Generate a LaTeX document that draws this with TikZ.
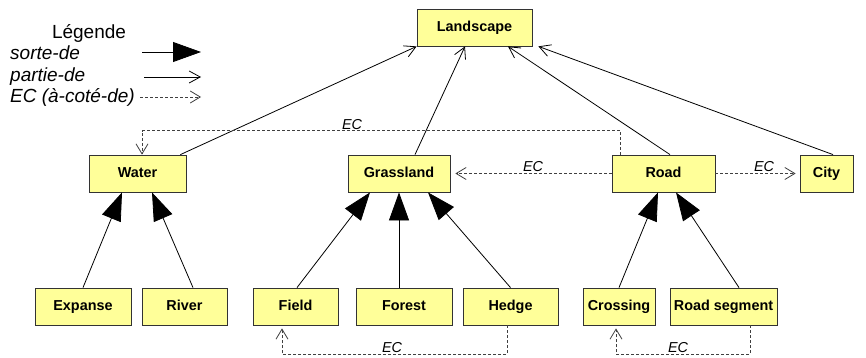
\documentclass[tikz,border=0pt]{standalone}
\usepackage{fontspec}
\setmainfont{Liberation Sans}
\usetikzlibrary{arrows.meta,calc}
\newlength{\du}
\setlength{\du}{1pt}
\definecolor{boxfill}{rgb}{1.000000, 1.000000, 0.600000}
\definecolor{boxline}{rgb}{0.200000, 0.200000, 0.200000}
\definecolor{eccolor}{rgb}{0.250000, 0.250000, 0.250000}
\tikzset{
  classbox/.style={draw=boxline, fill=boxfill, line width=0.8\du, inner sep=0pt,
    minimum height=37\du, text height=10.5pt, text depth=3pt,
    font=\fontsize{14.4}{17}\selectfont\bfseries},
  sortede/.style={line width=0.8\du, -{Triangle[length=28pt,width=20pt]}},
  partiede/.style={line width=0.8\du, -{Straight Barb[length=11pt,width=12pt]}},
  acotede/.style={line width=0.8\du, draw=eccolor, dash pattern=on 3pt off 2pt,
    -{Straight Barb[length=10pt,width=12pt]}},
  eclabel/.style={inner sep=0pt, font=\fontsize{14.4}{17}\selectfont\itshape},
  legendtext/.style={anchor=west, inner sep=0pt, font=\fontsize{19}{22}\selectfont\itshape},
}
\begin{document}
\begin{tikzpicture}
\pgftransformxscale{1.000000}
\pgftransformyscale{-1.000000}
\useasboundingbox (0\du,0\du) rectangle (866\du,358\du);
% legend
\node[inner sep=0pt, font=\fontsize{19}{22}\selectfont] (legende) at (89\du,33\du){Légende};
\node[legendtext] (lsorte) at (10\du,53\du){sorte-de};
\node[legendtext] (lpartie) at (10\du,77\du){partie-de};
\node[legendtext] (lacote) at (10\du,97\du){EC (à-coté-de)};
\coordinate (sortA) at (142\du,52\du);
\coordinate (sortB) at (201\du,52\du);
\coordinate (partA) at (144\du,77\du);
\coordinate (partB) at (201\du,77\du);
\coordinate (acoteA) at (140\du,97\du);
\coordinate (acoteB) at (201\du,97\du);
\draw[sortede] (sortA)--(sortB);
\draw[partiede] (partA)--(partB);
\draw[acotede] (acoteA)--(acoteB);
% classes
\node[classbox, minimum width=115\du] (landscape) at (474.5\du,27.5\du){Landscape};
\node[classbox, minimum width=97\du] (water) at (137.5\du,173.5\du){Water};
\node[classbox, minimum width=102\du] (grassland) at (399\du,173.5\du){Grassland};
\node[classbox, minimum width=103\du] (road) at (663.5\du,173.5\du){Road};
\node[classbox, minimum width=53\du] (city) at (826.5\du,173.5\du){City};
\node[classbox, minimum width=96\du] (expanse) at (83\du,306.5\du){Expanse};
\node[classbox, minimum width=85\du] (river) at (184.5\du,306.5\du){River};
\node[classbox, minimum width=85\du] (field) at (295.5\du,306.5\du){Field};
\node[classbox, minimum width=96\du] (forest) at (404\du,306.5\du){Forest};
\node[classbox, minimum width=95\du] (hedge) at (510.5\du,306.5\du){Hedge};
\node[classbox, minimum width=72\du] (crossing) at (619\du,306.5\du){Crossing};
\node[classbox, minimum width=107\du] (roadseg) at (723.5\du,306.5\du){Road segment};
% partie-de
\draw[partiede] ($(water.north east)+(-6\du,0)$)--(landscape.south west);
\draw[partiede] ($(grassland.north)+(16\du,0)$)--($(landscape.south)+(-9.5\du,0)$);
\draw[partiede] ($(road.north)+(6.5\du,0)$)--($(landscape.south)+(33.5\du,0)$);
\draw[partiede] ($(city.north)+(6.5\du,0)$)--($(landscape.south east)+(6\du,0)$);
% sorte-de
\draw[sortede] (expanse.north)--($(water.south)+(-15.5\du,0)$);
\draw[sortede] ($(river.north)+(8.5\du,0)$)--($(water.south)+(14.5\du,0)$);
\draw[sortede] ($(field.north)+(1.5\du,0)$)--($(grassland.south)+(-29\du,0)$);
\draw[sortede] (forest.north -| grassland.south)--(grassland.south);
\draw[sortede] (hedge.north)--($(grassland.south)+(29\du,0)$);
\draw[sortede] (crossing.north)--($(road.south)+(-5.5\du,0)$);
\draw[sortede] ($(roadseg.north)+(15.5\du,0)$)--($(road.south)+(12.5\du,0)$);
% a-cote-de
\draw[acotede] ($(road.north west)+(9\du,0)$)--++(0\du,-24\du)-|($(water.north)+(4.5\du,0)$);
\node[eclabel] (ectop) at (352\du,125\du){EC};
\draw[acotede, shorten >=5pt] (road.west)--(grassland.east);
\node[eclabel] (ecmid) at (533\du,167\du){EC};
\draw[acotede, shorten >=4pt] (road.east)--(city.west);
\node[eclabel] (eccity) at (764\du,167\du){EC};
\draw[acotede, shorten >=3pt] ($(hedge.south)+(-3.5\du,0)$)--++(0\du,29\du)-|($(field.south)+(-13.5\du,0)$);
\node[eclabel] (ecfield) at (392\du,348\du){EC};
\draw[acotede, shorten >=3pt] ($(roadseg.south)+(26.5\du,0)$)--++(0\du,29\du)-|($(crossing.south)+(-3\du,0)$);
\node[eclabel] (eccross) at (678\du,348\du){EC};
\end{tikzpicture}
\end{document}
